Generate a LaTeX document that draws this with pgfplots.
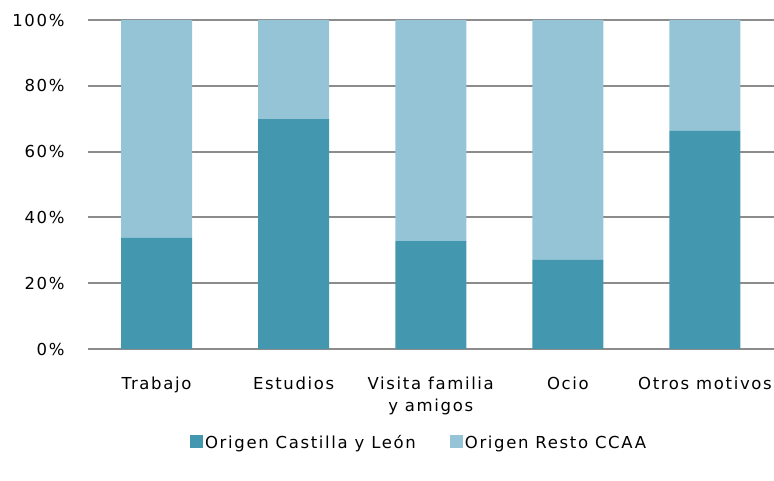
\documentclass[border=0pt]{standalone}
\usepackage{fontspec}
\setmainfont{DejaVu Sans}[LetterSpace=10]
\usepackage{pgfplots}
\pgfplotsset{compat=1.18}
\definecolor{darkteal}{HTML}{4398B0}
\definecolor{lightteal}{HTML}{94C4D6}
\definecolor{gridgray}{HTML}{8C8C8C}
\begin{document}
\begin{tikzpicture}
\useasboundingbox (0,0) rectangle (774bp,481bp);
\begin{axis}[
  at={(88bp,132bp)}, anchor=south west,
  scale only axis, width=685.5bp, height=329bp,
  ybar stacked, bar width=71bp,
  xmin=-0.5, xmax=4.5, ymin=0, ymax=100,
  xtick={0,1,2,3,4},
  xticklabels={Trabajo,Estudios,{Visita familia\\y amigos},Ocio,Otros motivos},
  xticklabel style={align=center, font=\fontsize{16.5bp}{22bp}\selectfont, yshift=-24bp},
  ytick={0,20,40,60,80,100},
  yticklabel={\pgfmathprintnumber{\tick}\%},
  yticklabel style={font=\fontsize{16.5bp}{18bp}\selectfont, xshift=-20bp},
  /pgf/number format/assume math mode=true,
  major tick length=0pt,
  ymajorgrids, grid style={gridgray, line width=2bp},
  axis x line*=bottom, axis y line*=left,
  x axis line style={gridgray, line width=2bp},
  y axis line style={draw=none},
  legend style={at={(0.483,-0.286)}, anchor=center, draw=none, legend columns=2,
    font=\fontsize{16.5bp}{18bp}\selectfont, /tikz/every even column/.append style={column sep=32bp}},
  legend image code/.code={\fill[#1] (0bp,-5bp) rectangle (13bp,8bp);},
]
\addplot[fill=darkteal, draw=none] coordinates {(0,33.8) (1,69.9) (2,32.8) (3,27.1) (4,66.3)};
\addplot[fill=lightteal, draw=none] coordinates {(0,66.2) (1,30.1) (2,67.2) (3,72.9) (4,33.7)};
\legend{Origen Castilla y León, Origen Resto CCAA}
\end{axis}
\end{tikzpicture}
\end{document}
